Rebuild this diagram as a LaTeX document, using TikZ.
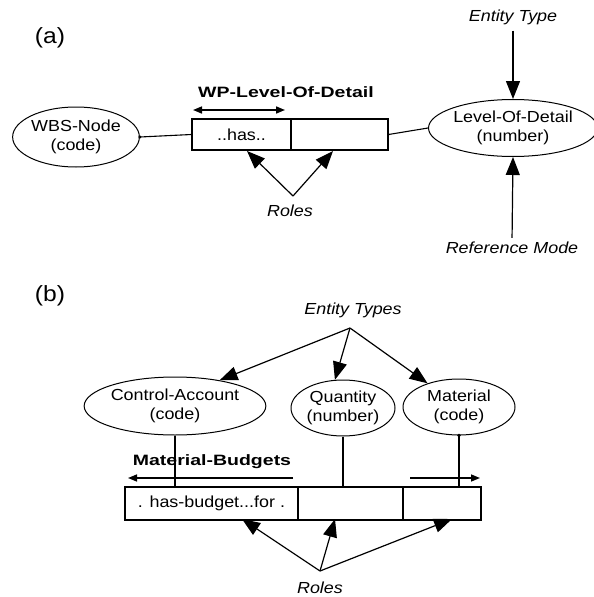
\documentclass[tikz,border=0pt]{standalone}
\usepackage{fontspec}
\setmainfont{Liberation Sans}[FakeStretch=1.12]
\newfontfamily\widebold{Liberation Sans}[FakeStretch=1.3]
\usetikzlibrary{arrows.meta,shapes.geometric}
\begin{document}
\begin{tikzpicture}[x=1pt,y=-1pt,
  itl/.style={inner sep=0pt, align=center, font=\fontsize{16}{19}\selectfont\itshape},
  lbl/.style={inner sep=0pt, font=\fontsize{22}{24}\selectfont},
  bld/.style={inner sep=0pt, font=\widebold\bfseries\fontsize{15}{18}\selectfont},
  ent/.style={ellipse, draw, line width=1pt, inner sep=0pt, align=center, font=\fontsize{16}{19}\selectfont},
  cell/.style={rectangle, draw, line width=1.1pt, inner sep=0pt, font=\fontsize{16}{19}\selectfont},
  big/.style={line width=1.2pt, -{Triangle[length=18pt,width=14pt]}},
  small/.style={line width=1.5pt, -{Triangle[length=9pt,width=7pt]}},
  conn/.style={line width=1.1pt},
  ]
\useasboundingbox (0,0) rectangle (594,597);
% ---------- (a) ----------
\node[lbl] (la) at (50,38) {(a)};
\node[ent, minimum width=124pt, minimum height=60pt] (wbs) at (76,137) {WBS-Node\\(code)};
\node[cell, minimum width=99pt, minimum height=31pt] (hasL) at (241.5,134.5) {..has..};
\node[cell, minimum width=97pt, minimum height=31pt] (hasR) at (339.5,134.5) {};
\node[ent, minimum width=156pt, minimum height=57pt] (lod) at (513,128) {Level-Of-Detail\\(number)};
\node[itl] (et) at (513,17) {Entity Type};
\node[itl] (rm) at (512,248) {Reference Mode};
\node[bld] (wp) at (286,92) {WP-Level-Of-Detail};
\coordinate (wpL) at (193,110);
\coordinate (wpR) at (285,110);
\draw[line width=1.6pt, {Triangle[length=9pt,width=7pt]}-{Triangle[length=9pt,width=7pt]}] (wpL) -- (wpR);
\draw[conn] (wbs.east) -- (hasL.west);
\fill (wbs.east) circle (1.8pt);
\draw[conn] (hasR.east) -- (lod.west);
\fill (hasR.east) circle (1.2pt);
\draw[big, shorten <=6pt] (et.south) -- (lod.north);
\draw[big, shorten <=4pt] (rm.north) -- (lod.south);
\node[itl] (rolesA) at (290,211) {Roles};
\coordinate (apA) at (293,196);
\coordinate (tA1) at (247,151);
\coordinate (tA2) at (333,151);
\draw[big] (apA) -- (tA1);
\draw[big] (apA) -- (tA2);
% ---------- (b) ----------
\node[lbl] (lb) at (50,296) {(b)};
\node[itl] (ets) at (353,310) {Entity Types};
\coordinate (apB) at (350,328);
\node[ent, minimum width=164pt, minimum height=58pt] (ca) at (175,406) {Control-Account\\(code)};
\node[ent, minimum width=104pt, minimum height=56pt] (q) at (343,408) {Quantity\\(number)};
\node[ent, minimum width=112pt, minimum height=56pt] (m) at (459,407) {Material\\(code)};
\draw[big] (apB) -- (ca.30);
\draw[big] (apB) -- (q.106);
\draw[big] (apB) -- (m.143);
\node[cell, minimum width=173pt, minimum height=33pt] (c1) at (211.5,503.5) {. has-budget...for .};
\node[cell, minimum width=105pt, minimum height=33pt] (c2) at (350.5,503.5) {};
\node[cell, minimum width=78pt, minimum height=33pt] (c3) at (442,503.5) {};
\draw[conn] (ca.south) -- (ca.south |- c1.north);
\draw[conn] (q.south) -- (q.south |- c2.north);
\draw[conn] (m.south) -- (m.south |- c3.north);
\fill (m.south) circle (1.8pt);
\node[bld] (mb) at (212,462) {Material-Budgets};
\coordinate (mbL) at (128,478);
\coordinate (mbR) at (293,478);
\draw[small] (mbR) -- (mbL);
\coordinate (mcL) at (410,478);
\coordinate (mcR) at (480,478);
\draw[small] (mcL) -- (mcR);
\node[itl] (rolesB) at (320,588) {Roles};
\coordinate (apB2) at (320,571);
\coordinate (tB1) at (242,519);
\coordinate (tB2) at (335,519);
\coordinate (tB3) at (452,519);
\draw[big] (apB2) -- (tB1);
\draw[big] (apB2) -- (tB2);
\draw[big] (apB2) -- (tB3);
\end{tikzpicture}
\end{document}
